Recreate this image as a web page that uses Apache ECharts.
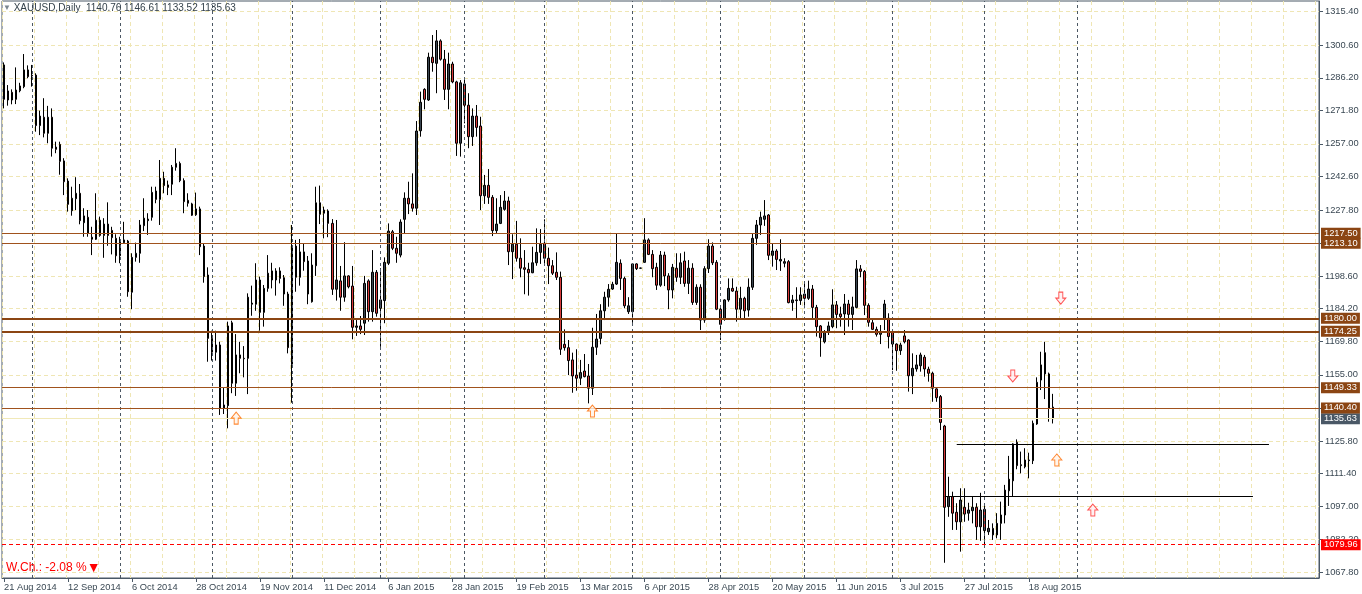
<!DOCTYPE html>
<html><head><meta charset="utf-8">
<script src="https://cdn.jsdelivr.net/npm/echarts@6/dist/echarts.min.js"></script>
<style>html,body{margin:0;padding:0;background:#fff}#c{width:1362px;height:594px}</style>
</head><body><div id="c"></div><script>
// ---------- DATA ----------
const firstDate = '2014-08-21';
const holidays = ['2014-12-25', '2015-01-01'];
const barCount = 263;      // trading bars on the chart
const totalSlots = 329;    // bars + future space on the time axis

const open = [1291.9,1276.4,1279.8,1276.7,1280.5,1282.3,1289.7,1287.3,1287.4,1265.1,1268.8,1261.7,1268.8,1255.6,1256.8,1249.5,1240.6,1227.5,1232.8,1235.2,
1222.2,1224.6,1215.8,1214.9,1223.3,1216.6,1221.6,1218.8,1215.3,1207.6,1213.4,1214.1,1191.5,1206.9,1208.7,1220.9,1223.1,1224.6,1236.2,1232.5,
1241.8,1238.9,1239.2,1246.7,1248.4,1240.8,1232.1,1230.5,1225.7,1228.3,1211.9,1199.1,1171.1,1165.0,1168.2,1140.2,1141.4,1178.0,1151.3,1163.8,
1162.3,1162.3,1186.2,1186.2,1196.9,1182.6,1193.2,1200.9,1196.9,1200.9,1197.9,1190.7,1159.7,1211.9,1198.1,1209.3,1205.3,1187.3,1203.2,1231.0,
1227.8,1227.4,1221.9,1192.8,1196.5,1189.3,1198.7,1194.2,1176.0,1176.6,1177.8,1196.5,1182.9,1200.3,1184.4,1187.8,1204.3,1218.2,1210.9,1207.9,
1223.7,1233.0,1230.5,1228.6,1262.8,1281.1,1276.4,1295.3,1292.6,1302.5,1294.4,1281.1,1292.3,1284.4,1257.3,1283.5,1274.1,1260.2,1269.3,1264.9,
1234.1,1238.7,1233.4,1218.7,1221.9,1228.1,1231.8,1209.4,1212.7,1206.5,1202.3,1201.6,1200.1,1204.5,1209.1,1213.1,1206.5,1203.2,1200.3,1198.1,
1168.5,1167.0,1161.6,1154.9,1153.5,1156.7,1154.5,1149.1,1167.2,1171.1,1183.3,1189.3,1192.9,1195.1,1204.3,1197.6,1182.9,1182.9,1204.0,1202.1,
1204.7,1214.6,1208.2,1202.5,1194.6,1207.9,1198.7,1192.5,1202.1,1198.1,1205.3,1195.4,1202.1,1187.0,1193.7,1179.2,1201.9,1211.9,1204.7,1184.0,
1179.8,1188.1,1193.2,1192.0,1184.0,1188.8,1183.6,1193.7,1215.3,1221.2,1223.7,1225.6,1207.8,1209.7,1205.3,1204.3,1205.0,1186.9,1187.8,1187.8,
1190.7,1188.8,1192.9,1184.8,1176.6,1169.6,1173.8,1176.3,1185.9,1181.9,1181.9,1186.3,1181.7,1184.8,1201.8,1200.7,1185.7,1178.0,1175.1,1172.9,
1179.5,1180.0,1174.1,1168.6,1165.7,1172.2,1170.4,1154.6,1157.6,1159.0,1162.8,1157.5,1155.7,1148.8,1145.4,1132.4,1096.8,1101.2,1094.3,1090.1,
1096.5,1093.9,1095.0,1096.5,1087.9,1095.6,1085.7,1087.2,1084.3,1089.4,1093.1,1103.8,1108.2,1125.2,1114.9,1114.4,1117.1,1117.1,1133.3,1152.7,
1164.8,1155.4,1140.76];
const close = [1276.7,1280.4,1276.4,1280.8,1282.6,1289.7,1286.7,1287.0,1265.1,1269.3,1261.7,1268.8,1255.1,1254.6,1249.3,1240.3,1230.3,1233.0,1235.2,1223.1,
1225.2,1217.5,1214.9,1223.3,1216.6,1221.6,1216.6,1215.6,1207.6,1213.7,1214.6,1191.7,1206.9,1208.7,1221.2,1224.2,1223.8,1235.6,1232.5,1241.8,
1238.6,1237.8,1246.7,1248.4,1240.8,1231.5,1230.8,1225.5,1228.3,1211.6,1198.4,1171.1,1165.0,1168.2,1140.2,1141.7,1176.6,1151.3,1163.8,1162.3,
1162.1,1189.3,1186.7,1196.9,1182.6,1193.2,1199.9,1196.9,1200.9,1197.6,1190.7,1167.0,1211.9,1198.1,1209.3,1205.0,1190.7,1203.5,1231.0,1225.9,
1226.4,1221.9,1192.8,1196.9,1189.3,1198.7,1193.9,1176.0,1176.6,1175.1,1195.4,1182.9,1200.3,1182.2,1188.1,1204.7,1218.5,1210.9,1208.7,1222.5,
1233.0,1230.5,1228.6,1262.7,1275.4,1276.7,1295.3,1292.9,1302.5,1294.4,1281.1,1292.3,1284.4,1257.3,1284.0,1274.1,1260.2,1269.3,1264.3,1234.1,
1238.7,1233.4,1218.7,1221.6,1229.0,1231.8,1209.4,1212.7,1206.5,1202.1,1201.6,1200.1,1204.5,1209.1,1212.7,1206.5,1203.2,1199.9,1198.1,1166.3,
1167.0,1161.3,1154.5,1153.5,1156.0,1154.2,1149.1,1167.2,1170.8,1183.3,1189.3,1192.8,1195.0,1204.7,1197.6,1185.5,1185.5,1204.0,1201.9,1202.2,
1214.6,1208.2,1201.9,1194.6,1207.9,1198.7,1192.5,1202.5,1198.1,1204.5,1195.4,1202.1,1187.0,1193.7,1179.2,1201.9,1211.9,1204.5,1184.0,1177.3,
1188.1,1193.2,1192.0,1184.0,1188.8,1183.3,1193.7,1215.3,1221.2,1224.6,1225.2,1207.8,1209.7,1206.0,1206.0,1205.0,1186.9,1188.1,1188.1,1190.3,
1188.8,1192.9,1184.8,1176.3,1171.4,1174.1,1176.6,1185.9,1181.7,1180.7,1186.3,1181.7,1185.0,1201.8,1200.7,1185.7,1178.2,1175.1,1172.9,1174.1,
1186.3,1171.9,1168.6,1165.7,1168.2,1169.6,1154.6,1157.9,1159.4,1163.8,1157.6,1155.7,1149.1,1144.9,1134.0,1096.5,1101.2,1093.9,1090.1,1099.7,
1093.5,1095.3,1096.5,1087.9,1095.3,1086.2,1087.2,1084.3,1089.4,1093.1,1104.1,1108.9,1124.5,1114.9,1115.3,1117.4,1117.4,1133.6,1151.7,1159.4,
1155.4,1140.2,1135.63];
const low = [1272.7,1273.9,1274.5,1274.6,1279.8,1281.6,1286.0,1282.3,1262.4,1260.9,1259.9,1257.3,1251.4,1252.9,1243.4,1234.4,1227.1,1225.3,1227.8,1221.5,
1216.0,1216.0,1207.9,1214.6,1216.0,1206.7,1212.0,1208.2,1204.5,1204.3,1212.8,1189.5,1184.0,1205.0,1204.5,1218.5,1216.8,1223.1,1230.8,1221.2,
1235.2,1234.4,1234.4,1245.2,1240.1,1226.4,1229.3,1225.2,1225.2,1207.9,1195.7,1160.8,1161.3,1161.3,1137.3,1137.7,1131.4,1146.9,1145.7,1155.7,
1153.9,1146.5,1181.1,1183.3,1174.5,1176.3,1191.7,1193.2,1190.0,1195.4,1185.5,1164.5,1142.7,1191.7,1194.4,1201.0,1186.2,1186.9,1198.7,1221.6,
1215.3,1215.8,1190.3,1187.8,1183.3,1187.3,1193.2,1170.7,1172.2,1173.0,1172.6,1178.5,1178.5,1180.7,1167.4,1177.8,1203.5,1210.1,1204.5,1206.9,
1217.5,1226.0,1227.1,1225.6,1260.2,1272.3,1276.0,1288.9,1279.4,1293.8,1276.4,1272.3,1283.8,1251.7,1251.4,1266.1,1255.1,1256.1,1260.2,1227.8,
1230.5,1230.5,1216.3,1217.5,1221.6,1227.5,1203.5,1197.3,1205.0,1198.1,1190.6,1190.0,1199.9,1203.2,1204.0,1204.0,1195.1,1199.1,1196.9,1163.8,
1165.7,1154.9,1147.1,1148.0,1150.5,1153.9,1142.4,1146.1,1163.8,1168.5,1179.2,1185.1,1192.5,1194.7,1192.5,1184.4,1181.9,1178.0,1201.3,1201.9,
1204.5,1207.9,1198.1,1192.5,1193.9,1194.2,1184.0,1188.8,1196.1,1195.1,1193.9,1190.7,1185.9,1185.9,1174.8,1178.0,1200.0,1203.5,1183.6,1170.4,
1178.9,1187.3,1191.7,1178.5,1180.0,1180.0,1180.7,1192.5,1212.4,1216.8,1220.8,1205.7,1202.8,1201.3,1200.9,1202.5,1186.6,1183.3,1180.0,1185.9,
1184.4,1188.1,1179.7,1171.9,1163.0,1168.9,1172.6,1175.6,1175.6,1176.3,1172.6,1176.3,1174.8,1184.4,1198.1,1181.4,1176.3,1174.8,1171.9,1168.6,
1174.8,1166.7,1157.1,1156.8,1163.8,1168.9,1147.6,1146.5,1156.4,1156.4,1154.2,1152.0,1143.1,1143.1,1130.6,1072.0,1092.3,1086.5,1086.5,1076.9,
1090.1,1090.6,1089.4,1082.1,1081.7,1079.8,1084.3,1082.1,1082.8,1082.1,1089.4,1097.1,1101.2,1113.3,1111.5,1113.7,1109.3,1115.6,1132.9,1148.3,
1144.3,1134.3,1133.52];
const high = [1293.0,1283.0,1281.1,1290.8,1284.0,1296.7,1291.7,1291.9,1288.2,1271.7,1277.2,1273.8,1272.7,1258.0,1258.0,1250.7,1241.8,1238.1,1242.3,1239.3,
1228.6,1227.8,1220.4,1235.2,1224.9,1224.2,1231.2,1220.4,1217.1,1216.0,1222.6,1214.6,1208.7,1213.4,1223.4,1233.0,1226.4,1238.1,1238.1,1249.9,
1244.7,1240.8,1247.7,1255.1,1249.2,1241.8,1235.2,1231.0,1235.5,1229.3,1213.1,1202.5,1174.5,1174.5,1169.6,1149.5,1178.5,1178.9,1173.0,1169.6,
1167.7,1191.0,1194.4,1204.3,1198.4,1194.7,1207.9,1204.5,1202.1,1202.5,1199.1,1191.7,1221.2,1214.6,1215.0,1213.1,1207.5,1208.7,1238.1,1238.6,
1229.3,1228.1,1223.8,1223.4,1203.1,1213.6,1199.0,1203.1,1179.2,1181.0,1198.7,1197.2,1210.1,1201.3,1202.1,1206.9,1221.9,1219.0,1216.0,1223.7,
1235.6,1240.3,1244.0,1267.1,1280.1,1281.6,1297.3,1305.1,1307.3,1303.2,1298.5,1297.3,1293.3,1284.9,1285.2,1286.1,1279.4,1272.7,1274.2,1269.0,
1243.3,1245.9,1234.4,1233.0,1234.4,1236.2,1233.7,1217.1,1223.0,1215.3,1210.1,1204.5,1211.6,1219.7,1219.4,1223.7,1211.2,1205.7,1209.1,1200.6,
1175.1,1170.4,1164.8,1166.3,1161.6,1164.2,1159.8,1175.8,1181.9,1186.2,1191.7,1195.1,1196.1,1217.5,1206.0,1198.4,1189.3,1204.3,1204.3,1202.3,
1224.2,1215.3,1210.1,1204.5,1209.7,1209.4,1199.9,1204.0,1208.7,1208.7,1209.4,1205.7,1204.3,1195.0,1195.0,1203.0,1214.9,1213.5,1205.7,1185.1,
1188.4,1197.6,1197.6,1193.9,1193.9,1189.5,1197.6,1217.5,1223.4,1227.1,1232.2,1226.0,1213.1,1210.5,1214.9,1206.5,1205.7,1190.3,1193.7,1193.7,
1195.4,1196.6,1194.7,1185.9,1177.0,1174.8,1178.5,1192.8,1187.6,1185.1,1190.7,1188.1,1189.5,1205.7,1203.5,1201.3,1186.6,1180.0,1176.3,1177.0,
1188.1,1182.2,1174.8,1168.9,1169.2,1174.8,1170.7,1164.5,1163.8,1164.8,1163.8,1158.6,1156.4,1149.1,1146.1,1132.9,1110.0,1103.4,1098.3,1104.9,
1104.9,1098.5,1101.2,1098.3,1102.9,1097.1,1090.9,1089.4,1093.9,1099.0,1106.4,1119.2,1124.8,1126.5,1121.1,1122.6,1120.6,1134.8,1153.9,1165.2,
1169.6,1156.0,1146.61];

const yTickValues = [1067.80,1082.20,1097.00,1111.40,1125.80,1140.40,1155.00,1169.80,1184.20,1198.60,1213.10,1227.80,1242.60,1257.00,1271.80,1286.20,1300.60,1315.40];
const yLabelValues = [1067.80,1082.20,1097.00,1111.40,1125.80,1155.00,1169.80,1184.20,1198.60,1227.80,1242.60,1257.00,1271.80,1286.20,1300.60,1315.40];

const thinLevels = [1217.50, 1213.10, 1149.33, 1140.40];
const thickLevels = [1180.00, 1174.25];
const bidPrice = 1135.63;
const markPrice = 1079.96;
const monthSeparators = ['1 Sep 2014','1 Oct 2014','3 Nov 2014','1 Dec 2014','2 Jan 2015','2 Feb 2015','2 Mar 2015','1 Apr 2015','1 May 2015','1 Jun 2015','1 Jul 2015','3 Aug 2015','1 Sep 2015'];
const trendFrom = ['23 Jul 2015', '20 Jul 2015'];
const trendTo = ['19 Oct 2015', '15 Oct 2015'];
const trendValue = [1124.5, 1101.3];

const upArrowsOrange = [['11 Nov 2014', 1135.9], ['18 Mar 2015', 1139.0], ['27 Aug 2015', 1117.4]];
const downArrowsRed = [['12 Aug 2015', 1154.5], ['28 Aug 2015', 1188.9]];
const upArrowsRed = [['5 Sep 2015', 1095.3]];

const headerText = 'XAUUSD,Daily  1140.76 1146.61 1133.52 1135.63';
const weekChange = 'W.Ch.: -2.08 %';

// ---------- CATEGORIES ----------
const monthNames = ['Jan','Feb','Mar','Apr','May','Jun','Jul','Aug','Sep','Oct','Nov','Dec'];
const categories = [];
(function () {
  let d = new Date(firstDate + 'T00:00:00Z');
  const fmt = dt => dt.getUTCDate() + ' ' + monthNames[dt.getUTCMonth()] + ' ' + dt.getUTCFullYear();
  const iso = dt => dt.toISOString().slice(0, 10);
  while (categories.length < barCount) {
    const wd = d.getUTCDay();
    if (wd !== 0 && wd !== 6 && holidays.indexOf(iso(d)) < 0) categories.push(fmt(d));
    d = new Date(d.getTime() + 86400000);
  }
  while (categories.length < totalSlots) { categories.push(fmt(d)); d = new Date(d.getTime() + 86400000); }
})();

const candleData = open.map((o, i) => [o, close[i], low[i], high[i]]);

// ---------- CHART ----------
const FONT = 'Liberation Sans';
const AXIS = '#4a5866';
const TXT = '#3a4853';
const GRIDC = '#efe6b4';
const BROWN = '#8b4513';
const BROWN_THIN = '#a0521d';
const fmt2 = p => Number(p.value).toFixed(2);
const lvlLabel = bg => ({show: true, position: 'end', distance: 2, formatter: fmt2, color: '#ffffff',
  backgroundColor: bg, padding: [1, 3, 0, 3], fontSize: 9.3, lineHeight: 10, fontFamily: FONT});
const upPath = 'path://M5,0 L10,6 L7,6 L7,12 L3,12 L3,6 L0,6 Z';
const downPath = 'path://M3,0 L7,0 L7,6 L10,6 L5,12 L0,6 L3,6 Z';
const showIdx = i => i % 16 === 0 && i < barCount;

const markData = [];
monthSeparators.forEach(d => markData.push({xAxis: d, lineStyle: {color: '#4b5763', type: [3, 3], width: 1}, label: {show: false}}));
markData.push({yAxis: bidPrice, lineStyle: {color: '#f1e9b8', type: 'solid', width: 1}, label: lvlLabel('#4a5866')});
thinLevels.forEach(v => markData.push({yAxis: v, lineStyle: {color: BROWN_THIN, type: 'solid', width: 1}, label: lvlLabel(BROWN)}));
thickLevels.forEach(v => markData.push({yAxis: v, lineStyle: {color: BROWN, type: 'solid', width: 2}, label: lvlLabel(BROWN)}));
markData.push({yAxis: markPrice, lineStyle: {color: '#ff0000', type: [4, 3], width: 1}, label: lvlLabel('#ff0000')});
trendValue.forEach((v, k) => markData.push([
  {coord: [trendFrom[k], v], lineStyle: {color: '#000000', type: 'solid', width: 1}, label: {show: false}},
  {coord: [trendTo[k], v]}
]));

const arrowSeries = (data, path, stroke, fill) => ({
  type: 'scatter', data: data, symbol: path, symbolSize: [10, 12], silent: true, z: 5,
  itemStyle: {color: fill, borderColor: stroke, borderWidth: 1}
});

const chart = echarts.init(document.getElementById('c'), null, {renderer: 'canvas'});
chart.setOption({
  animation: false,
  backgroundColor: '#ffffff',
  textStyle: {fontFamily: FONT},
  title: [
    {text: '{i|▼} ' + headerText, left: 3, top: 3, padding: 0,
     textStyle: {fontSize: 10, fontWeight: 'normal', color: '#33404a', fontFamily: FONT,
       rich: {i: {fontSize: 8, color: '#7a8690'}}}},
    {text: weekChange + '{t|▼}', left: 6, top: 561, padding: 0,
     textStyle: {fontSize: 12, fontWeight: 'normal', color: '#ff0000', fontFamily: FONT,
       rich: {t: {fontSize: 14, color: '#ff0000'}}}}
  ],
  grid: {left: 2, right: 43, top: 1, bottom: 16, show: true, borderColor: AXIS, borderWidth: 1, outerBoundsMode: 'none', containLabel: false},
  xAxis: {
    type: 'category', data: categories, boundaryGap: true,
    axisLine: {show: true, lineStyle: {color: AXIS, width: 1}},
    axisTick: {show: true, alignWithLabel: true, interval: showIdx, length: 4, lineStyle: {color: AXIS}},
    axisLabel: {interval: showIdx, align: 'left', margin: 5, fontSize: 9.3, color: TXT, fontFamily: FONT},
    splitLine: {show: true, interval: 7, lineStyle: {color: GRIDC, type: [4, 3], width: 1}}
  },
  yAxis: {
    type: 'value', position: 'right', min: 1065.27, max: 1320.13,
    axisLine: {show: true, lineStyle: {color: AXIS, width: 1}},
    axisTick: {show: true, inside: false, length: 4, customValues: yTickValues, lineStyle: {color: AXIS}},
    axisLabel: {customValues: yLabelValues, formatter: v => v.toFixed(2), margin: 6, fontSize: 9.3, color: TXT, fontFamily: FONT},
    splitLine: {show: true, lineStyle: {color: GRIDC, type: [4, 3], width: 1}}
  },
  series: [
    {
      type: 'candlestick', data: candleData, barWidth: 2,
      itemStyle: {color: '#3b4650', color0: '#d83a3a', borderColor: '#000000', borderColor0: '#000000', borderColorDoji: '#000000', borderWidth: 1},
      emphasis: {disabled: true},
      markLine: {silent: true, symbol: ['none', 'none'], animation: false, precision: 2,
        lineStyle: {color: BROWN, width: 1, type: 'solid'}, data: markData}
    },
    arrowSeries(upArrowsOrange, upPath, '#ff6a00', '#fff4e8'),
    arrowSeries(downArrowsRed, downPath, '#ff2a2a', '#ffeef0'),
    arrowSeries(upArrowsRed, upPath, '#ff2a2a', '#ffeef0')
  ]
});
</script></body></html>
